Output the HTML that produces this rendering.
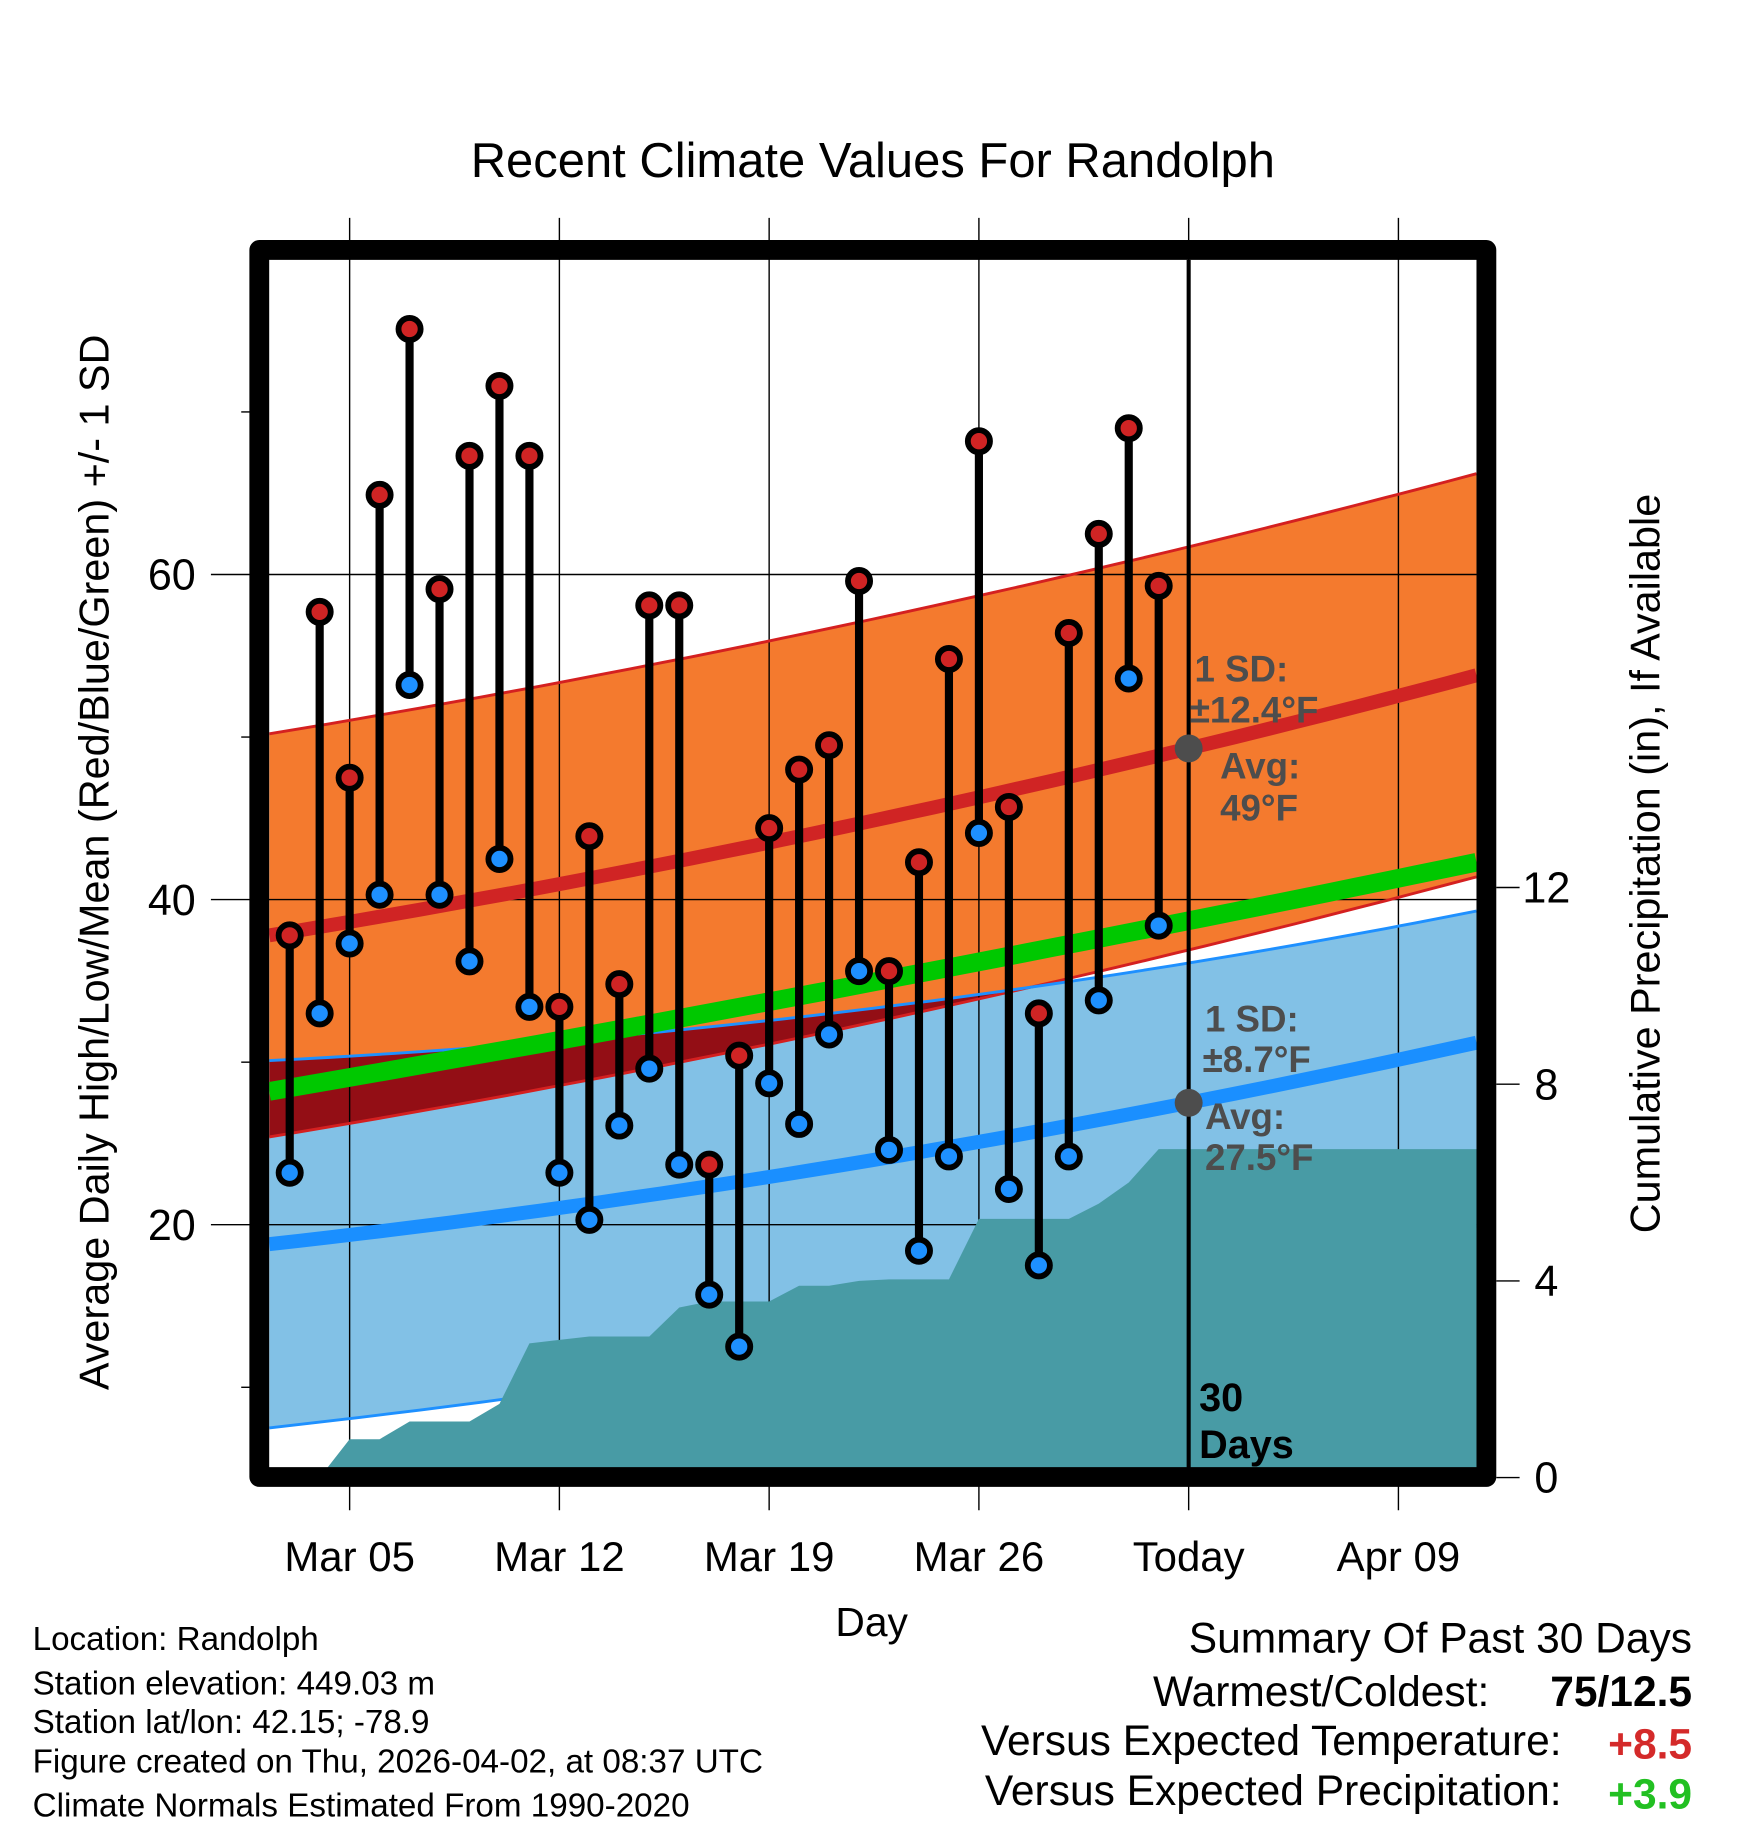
<!DOCTYPE html>
<html><head><meta charset="utf-8"><style>
html,body{margin:0;padding:0;background:#fff}
svg{display:block}
text{font-family:"Liberation Sans",sans-serif}
</style></head><body>
<svg id="chart" width="1748" height="1828" viewBox="0 0 1500 1568.7" preserveAspectRatio="none" xmlns="http://www.w3.org/2000/svg">
<text x="749" y="152" font-size="42" text-anchor="middle">Recent Climate Values For Randolph</text>
<g id="bands"></g>
<g id="grid"></g>
<g id="edges"></g>
<g id="precip"></g>
<g id="lines"></g>
<g id="bars"></g>
<g id="annot"></g>
<rect x="222.5" y="214.5" width="1053" height="1053" fill="none" stroke="#000" stroke-width="17" stroke-linejoin="round"/>
<g id="axes"></g>
<text transform="translate(93,740) rotate(-90)" font-size="35.5" text-anchor="middle">Average Daily High/Low/Mean (Red/Blue/Green) +/- 1 SD</text>
<text transform="translate(1424,741) rotate(-90)" font-size="35.5" text-anchor="middle">Cumulative Precipitation (in), If Available</text>
<text x="748" y="1404" font-size="35" text-anchor="middle">Day</text>
<g font-size="28.5">
<text x="28" y="1416">Location: Randolph</text>
<text x="28" y="1454">Station elevation: 449.03 m</text>
<text x="28" y="1487">Station lat/lon: 42.15; -78.9</text>
<text x="28" y="1521">Figure created on Thu, 2026-04-02, at 08:37 UTC</text>
<text x="28" y="1559">Climate Normals Estimated From 1990-2020</text>
</g>
<g font-size="36.5">
<text x="1452" y="1418" text-anchor="end">Summary Of Past 30 Days</text>
<text x="1278" y="1464" text-anchor="end">Warmest/Coldest:</text>
<text x="1452" y="1464" text-anchor="end" font-weight="bold">75/12.5</text>
<text x="1340" y="1506" text-anchor="end">Versus Expected Temperature:</text>
<text x="1452" y="1509" text-anchor="end" font-weight="bold" fill="#d42a2a">+8.5</text>
<text x="1340" y="1549" text-anchor="end">Versus Expected Precipitation:</text>
<text x="1452" y="1552" text-anchor="end" font-weight="bold" fill="#22c022">+3.9</text>
</g>
</svg>
<script>
// data
const highs=[37.8,57.7,47.5,64.9,75.1,59.1,67.3,71.6,67.3,33.4,43.9,34.8,58.1,58.1,23.7,30.4,44.4,48.0,49.5,59.6,35.6,42.3,54.8,68.2,45.7,33.0,56.4,62.5,69.0,59.3];
const lows=[23.2,33.0,37.3,40.3,53.2,40.3,36.2,42.5,33.4,23.2,20.3,26.1,29.6,23.7,15.7,12.5,28.7,26.2,31.7,35.6,24.6,18.4,24.2,44.1,22.2,17.5,24.2,33.8,53.6,38.4];
const precip=[null,0,0.78,0.78,1.14,1.14,1.14,1.5,2.73,2.8,2.87,2.87,2.87,3.46,3.58,3.58,3.58,3.9,3.9,4.0,4.03,4.03,4.03,5.26,5.26,5.26,5.26,5.57,6.0,6.68];
const xTickLabels=["Mar 05","Mar 12","Mar 19","Mar 26","Today","Apr 09"];
const xTickDays=[2,9,16,23,30,37];
const yTicks=[20,40,60];
const y2Ticks=[0,4,8,12];
// normals at [left edge, today, right edge]
const highMean=[37.8,49.3,53.8], highSD=[12.4,12.4,12.4];
const lowMean=[18.8,27.5,31.2], lowSDup=[11.3,8.6,8.1], lowSDdn=[11.3,11.3,11.3];
const avgMean=[28.2,38.7,42.3];
// axes
const X0=248.6, DX=25.714; // day 0 = Mar 03
const xs=d=>X0+d*DX;
const ys=v=>772-(v-40)*13.95;
const yp=p=>1268-p*42.2;
const L=231,R=1267,T=223,B=1260;
const dL=(L-X0)/DX, dR=(R-X0)/DX, dT=30;
const NS="http://www.w3.org/2000/svg";
function mk(tag,attrs,parent){const e=document.createElementNS(NS,tag);for(const k in attrs)e.setAttribute(k,attrs[k]);document.getElementById(parent).appendChild(e);return e;}
// quadratic through three knots (left, today, right)
function interp(a,d){const x0=dL,x1=dT,x2=dR;
 return a[0]*(d-x1)*(d-x2)/((x0-x1)*(x0-x2))+a[1]*(d-x0)*(d-x2)/((x1-x0)*(x1-x2))+a[2]*(d-x0)*(d-x1)/((x2-x0)*(x2-x1));}
function line(arr,off,sign){const out=[];for(let k=0;k<=40;k++){const d=dL+(dR-dL)*k/40;out.push([xs(d),ys(interp(arr,d)+sign*interp(off,d))]);}return out;}
const pts=a=>a.map(p=>p[0].toFixed(1)+','+p[1].toFixed(1)).join(' ');
const Z=[0,0,0];
const bUp=line(lowMean,lowSDup,1), bDn=line(lowMean,lowSDdn,-1);
const oUp=line(highMean,highSD,1), oDn=line(highMean,highSD,-1);
let defs=mk('defs',{},'bands');
let cp=document.createElementNS(NS,'clipPath');cp.setAttribute('id','blueclip');defs.appendChild(cp);
let cpp=document.createElementNS(NS,'polygon');cpp.setAttribute('points',pts([...bUp,...bDn.slice().reverse()]));cp.appendChild(cpp);
let cr=document.createElementNS(NS,'clipPath');cr.setAttribute('id','plotclip');defs.appendChild(cr);
let crr=document.createElementNS(NS,'rect');crr.setAttribute('x',L);crr.setAttribute('y',T);crr.setAttribute('width',R-L);crr.setAttribute('height',B-T);cr.appendChild(crr);
['bands','edges','lines'].forEach(id=>document.getElementById(id).setAttribute('clip-path','url(#plotclip)'));
let e;
e=mk('polygon',{points:pts([...bUp,...bDn.slice().reverse()]),fill:'#82c1e6'},'bands');


e=mk('polygon',{points:pts([...oUp,...oDn.slice().reverse()]),fill:'#f47a2e'},'bands');


e=mk('polygon',{points:pts([...oUp,...oDn.slice().reverse()]),fill:'#930e15','clip-path':'url(#blueclip)'},'bands');


// grid
xTickDays.forEach((d,i)=>{
 e=mk('line',{x1:xs(d),x2:xs(d),y1:187,y2:1296,stroke:'#000','stroke-width':1.2},'grid');
 
 
 e=mk('text',{x:xs(d),y:1348,'font-size':36,'text-anchor':'middle'},'axes');
 e.textContent=xTickLabels[i];
 
 
});
yTicks.forEach(v=>{
 e=mk('line',{x1:181,x2:R,y1:ys(v),y2:ys(v),stroke:'#000','stroke-width':1.2},'grid');
 
 
 e=mk('text',{x:168,y:ys(v)+13,'font-size':37,'text-anchor':'end'},'axes');
 e.textContent=v;
 
 
});
[10,30,50,70].forEach(v=>{
 e=mk('line',{x1:207,x2:216,y1:ys(v),y2:ys(v),stroke:'#000','stroke-width':1.2},'axes');
 
 
});
y2Ticks.forEach(p=>{
 e=mk('line',{x1:1284,x2:1304,y1:yp(p),y2:yp(p),stroke:'#000','stroke-width':1.2},'axes');
 
 
 e=mk('text',{x:1327,y:yp(p)+13,'font-size':37,'text-anchor':'middle'},'axes');
 e.textContent=p;
 
 
});
// band edge lines (under precip)
[[oUp,'#d42020',2.5,'high-sd-upper'],[oDn,'#d42020',2.5,'high-sd-lower'],[bUp,'#1e90ff',2.5,'low-sd-upper'],[bDn,'#1e90ff',2.5,'low-sd-lower']].forEach(a=>{
 e=mk('polyline',{points:pts(a[0]),fill:'none',stroke:a[1],'stroke-width':a[2]},'edges');
 
 
});
// precip area
let pp=[];let first=precip.findIndex(v=>v!==null);
pp.push([xs(first)+4,B]);
for(let i=first;i<precip.length;i++)pp.push([Math.max(xs(i),L),yp(precip[i])]);
pp.push([R,yp(precip[precip.length-1])]);pp.push([R,B]);
e=mk('polygon',{points:pts(pp),fill:'#489ba5'},'precip');


// mean lines
[[line(avgMean,Z,1),'#00c800',16,'mean-normal-line'],[line(highMean,Z,1),'#d02424',12,'high-normal-line'],[line(lowMean,Z,1),'#1a8fff',12,'low-normal-line']].forEach(a=>{
 e=mk('polyline',{points:pts(a[0]),fill:'none',stroke:a[1],'stroke-width':a[2]},'lines');
 
 
});
// bars
highs.forEach((h,i)=>{
 const x=xs(i);
 e=mk('line',{x1:x,x2:x,y1:ys(h),y2:ys(lows[i]),stroke:'#000','stroke-width':7},'bars');
 
 
 e=mk('circle',{cx:x,cy:ys(lows[i]),r:9.5,fill:'#1e90ff',stroke:'#000','stroke-width':5},'bars');
 
 
 e=mk('circle',{cx:x,cy:ys(h),r:9.5,fill:'#d02424',stroke:'#000','stroke-width':5},'bars');
 
 
});
// today line + annotations
e=mk('line',{x1:xs(dT),x2:xs(dT),y1:T,y2:B,stroke:'#000','stroke-width':3.5},'annot');


e=mk('circle',{cx:xs(dT),cy:ys(interp(highMean,dT)),r:12,fill:'#4d4d4d'},'annot');


e=mk('circle',{cx:xs(dT),cy:ys(interp(lowMean,dT)),r:12,fill:'#4d4d4d'},'annot');


const ann=[[1025,585,'1 SD:'],[1021,620,'±12.4°F'],[1047,668,'Avg:'],[1047,704,'49°F'],[1034,885,'1 SD:'],[1032,920,'±8.7°F'],[1034,969,'Avg:'],[1034,1004,'27.5°F']];
ann.forEach(a=>{
 e=mk('text',{x:a[0],y:a[1],'font-size':31.5,'font-weight':'bold',fill:'#4d4d4d'},'annot');
 e.textContent=a[2];
 
 
});
e=mk('text',{x:1029,y:1211,'font-size':34,'font-weight':'bold',fill:'#000'},'annot');e.textContent='30';


e=mk('text',{x:1029,y:1251,'font-size':34,'font-weight':'bold',fill:'#000'},'annot');e.textContent='Days';


</script>
</body></html>
